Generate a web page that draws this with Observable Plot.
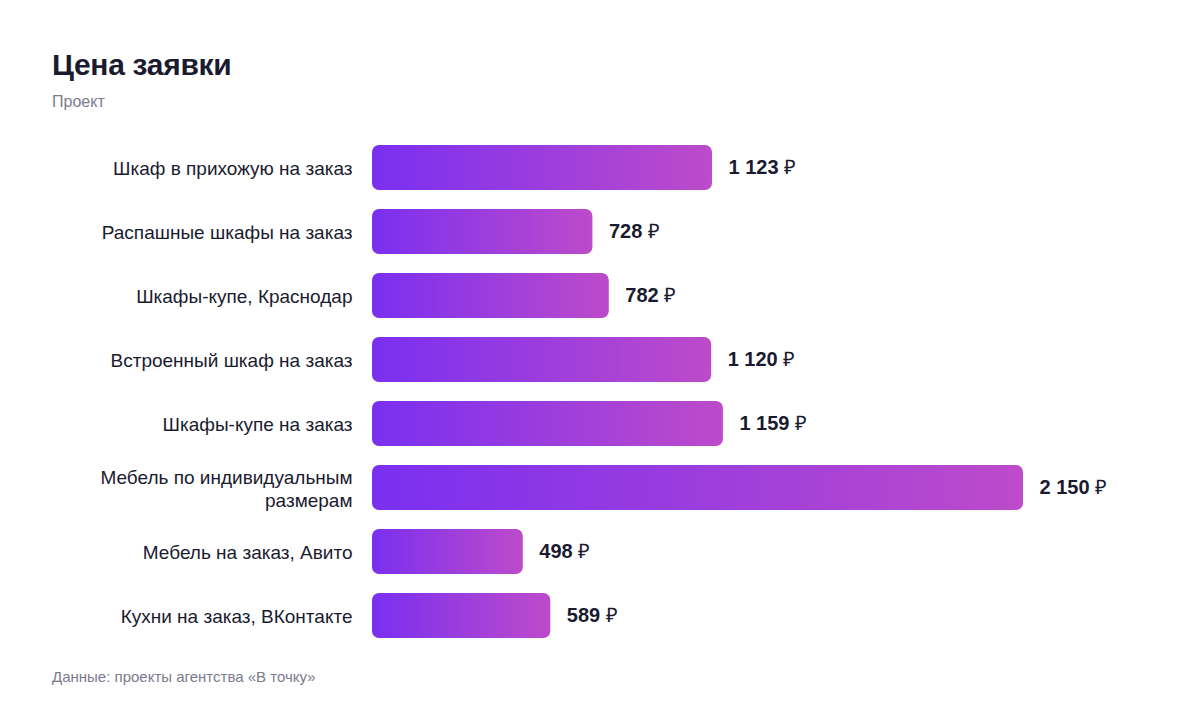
<!DOCTYPE html>
<html><head><meta charset="utf-8">
<script src="https://cdn.jsdelivr.net/npm/d3@7"></script>
<script src="https://cdn.jsdelivr.net/npm/@observablehq/plot@0.6"></script>
<style>
body{margin:0;background:#fff;font-family:"Liberation Sans",Arial,sans-serif;width:1200px;height:712px;position:relative;overflow:hidden}
#title{position:absolute;left:52px;top:48px;font-size:30px;font-weight:bold;color:#1b1b2f;letter-spacing:-0.3px}
#sub{position:absolute;left:52px;top:93px;font-size:16px;color:#7b7b8e}
#chart{position:absolute;left:0;top:109px}
#cap{position:absolute;left:52px;top:668px;font-size:15px;color:#7b7b8e}
</style></head><body>
<div id="title">Цена заявки</div>
<div id="sub">Проект</div>
<div id="chart"></div>
<div id="cap">Данные: проекты агентства «В точку»</div>
<script>
const categories = ["Шкаф в прихожую на заказ","Распашные шкафы на заказ","Шкафы-купе, Краснодар","Встроенный шкаф на заказ","Шкафы-купе на заказ","Мебель по индивидуальным размерам","Мебель на заказ, Авито","Кухни на заказ, ВКонтакте"];
const values = [1123, 728, 782, 1120, 1159, 2150, 498, 589];
const labelLines = {"Мебель по индивидуальным размерам":"Мебель по индивидуальным\nразмерам"};
const data = categories.map((c,i)=>({cat:c, v:values[i]}));
const fmt = v => d3.format(",")(v).replace(/,/g," ");

const plot = Plot.plot({
  width:1200, height:560,
  marginLeft:372, marginRight:177, marginTop:16, marginBottom:11,
  style:{fontFamily:'"Liberation Sans",Arial,sans-serif', background:"transparent"},
  x:{domain:[0,2150], axis:null, nice:false},
  y:{domain:categories, padding:0.3, label:null},
  marks:[
    () => {
      const s = d3.create("svg:defs");
      const g = s.append("linearGradient").attr("id","barGrad").attr("x1","0").attr("x2","1").attr("y1","0").attr("y2","0");
      g.append("stop").attr("offset","0").attr("stop-color","#7a2ff0");
      g.append("stop").attr("offset","1").attr("stop-color","#bd4bca");
      return s.node();
    },
    Plot.barX(data,{x:"v", y:"cat", fill:"url(#barGrad)", rx:7}),
    Plot.axisY({tickSize:0, tickPadding:20, fontSize:19, tickFormat:d=>labelLines[d]||d, lineHeight:1.22, fill:"#1b1b2f"}),
    Plot.text(data,{x:"v", y:"cat", text:d=>fmt(d.v)+" ₽", dx:16, textAnchor:"start", fontSize:20, fontWeight:"bold", fill:"#1b1b2f", className:"vlab"})
  ]
});
document.getElementById("chart").appendChild(plot);
// render ruble sign in normal weight
plot.querySelectorAll(".vlab text").forEach(t=>{
  const s = t.textContent;
  const num = s.replace(" ₽","");
  t.textContent = "";
  const a = document.createElementNS("http://www.w3.org/2000/svg","tspan"); a.textContent = num + " ";
  const b = document.createElementNS("http://www.w3.org/2000/svg","tspan"); b.textContent = "₽"; b.setAttribute("font-weight","normal");
  t.appendChild(a); t.appendChild(b);
});
</script>
</body></html>
